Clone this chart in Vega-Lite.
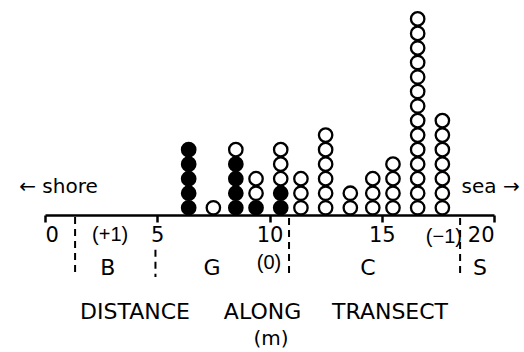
{
  "$schema": "https://vega.github.io/schema/vega-lite/v6.json",
  "width": 449,
  "height": 215,
  "autosize": "none",
  "padding": {"left": 45, "top": 0, "right": 30, "bottom": 137},
  "background": "white",
  "config": {"view": {"stroke": null}, "font": "DejaVu Sans"},
  "datasets": {
    "circles": [
      {"pos": 6.4, "k": 1, "filled": "yes"}, {"pos": 6.4, "k": 2, "filled": "yes"}, {"pos": 6.4, "k": 3, "filled": "yes"}, {"pos": 6.4, "k": 4, "filled": "yes"}, {"pos": 6.4, "k": 5, "filled": "yes"},
      {"pos": 7.5, "k": 1, "filled": "no"},
      {"pos": 8.5, "k": 1, "filled": "yes"}, {"pos": 8.5, "k": 2, "filled": "yes"}, {"pos": 8.5, "k": 3, "filled": "yes"}, {"pos": 8.5, "k": 4, "filled": "yes"}, {"pos": 8.5, "k": 5, "filled": "no"},
      {"pos": 9.4, "k": 1, "filled": "yes"}, {"pos": 9.4, "k": 2, "filled": "no"}, {"pos": 9.4, "k": 3, "filled": "no"},
      {"pos": 10.5, "k": 1, "filled": "yes"}, {"pos": 10.5, "k": 2, "filled": "yes"}, {"pos": 10.5, "k": 3, "filled": "no"}, {"pos": 10.5, "k": 4, "filled": "no"}, {"pos": 10.5, "k": 5, "filled": "no"},
      {"pos": 11.4, "k": 1, "filled": "no"}, {"pos": 11.4, "k": 2, "filled": "no"}, {"pos": 11.4, "k": 3, "filled": "no"},
      {"pos": 12.5, "k": 1, "filled": "no"}, {"pos": 12.5, "k": 2, "filled": "no"}, {"pos": 12.5, "k": 3, "filled": "no"}, {"pos": 12.5, "k": 4, "filled": "no"}, {"pos": 12.5, "k": 5, "filled": "no"}, {"pos": 12.5, "k": 6, "filled": "no"},
      {"pos": 13.6, "k": 1, "filled": "no"}, {"pos": 13.6, "k": 2, "filled": "no"},
      {"pos": 14.6, "k": 1, "filled": "no"}, {"pos": 14.6, "k": 2, "filled": "no"}, {"pos": 14.6, "k": 3, "filled": "no"},
      {"pos": 15.5, "k": 1, "filled": "no"}, {"pos": 15.5, "k": 2, "filled": "no"}, {"pos": 15.5, "k": 3, "filled": "no"}, {"pos": 15.5, "k": 4, "filled": "no"},
      {"pos": 16.6, "k": 1, "filled": "no"}, {"pos": 16.6, "k": 2, "filled": "no"}, {"pos": 16.6, "k": 3, "filled": "no"}, {"pos": 16.6, "k": 4, "filled": "no"}, {"pos": 16.6, "k": 5, "filled": "no"}, {"pos": 16.6, "k": 6, "filled": "no"}, {"pos": 16.6, "k": 7, "filled": "no"}, {"pos": 16.6, "k": 8, "filled": "no"}, {"pos": 16.6, "k": 9, "filled": "no"}, {"pos": 16.6, "k": 10, "filled": "no"}, {"pos": 16.6, "k": 11, "filled": "no"}, {"pos": 16.6, "k": 12, "filled": "no"}, {"pos": 16.6, "k": 13, "filled": "no"}, {"pos": 16.6, "k": 14, "filled": "no"},
      {"pos": 17.7, "k": 1, "filled": "no"}, {"pos": 17.7, "k": 2, "filled": "no"}, {"pos": 17.7, "k": 3, "filled": "no"}, {"pos": 17.7, "k": 4, "filled": "no"}, {"pos": 17.7, "k": 5, "filled": "no"}, {"pos": 17.7, "k": 6, "filled": "no"}, {"pos": 17.7, "k": 7, "filled": "no"}
    ],
    "zones": [
      {"pos": 1.34, "top": 0.36, "bottom": -3.77},
      {"pos": 4.92, "top": -1.9, "bottom": -3.77},
      {"pos": 10.87, "top": 0.3, "bottom": -3.84},
      {"pos": 18.49, "top": 0.3, "bottom": -3.84}
    ],
    "bigLabels": [
      {"pos": 0.6, "y": 2.43, "label": "← shore"},
      {"pos": 19.85, "y": 2.43, "label": "sea →"}
    ],
    "zoneLetters": [
      {"pos": 2.8, "y": -3.15, "label": "B"},
      {"pos": 7.44, "y": -3.15, "label": "G"},
      {"pos": 14.39, "y": -3.15, "label": "C"},
      {"pos": 19.38, "y": -3.15, "label": "S"}
    ],
    "levels": [
      {"pos": 2.9, "y": -0.88, "label": "(+1)"},
      {"pos": 9.98, "y": -2.8, "label": "(0)"},
      {"pos": 17.77, "y": -1.0, "label": "(−1)"}
    ],
    "title": [
      {"pos": 4.01, "y": -6.21, "label": "DISTANCE"},
      {"pos": 9.69, "y": -6.21, "label": "ALONG"},
      {"pos": 15.37, "y": -6.21, "label": "TRANSECT"}
    ],
    "unit": [
      {"pos": 10.07, "y": -8.03, "label": "(m)"}
    ]
  },
  "layer": [
    {
      "data": {"name": "circles"},
      "mark": {"type": "point", "shape": "circle", "filled": true, "size": 180, "stroke": "black", "strokeWidth": 2.3, "opacity": 1},
      "encoding": {
        "x": {"field": "pos", "type": "quantitative", "scale": {"domain": [0, 20], "nice": false},
          "axis": {"values": [0, 5, 10, 15, 20], "grid": false, "domainColor": "black", "domainWidth": 2.5, "tickColor": "black", "tickWidth": 2.5, "tickSize": 7,
            "labelFontSize": 21, "labelColor": "black", "labelPadding": 2, "labelFont": "DejaVu Sans", "title": null}},
        "y": {"field": "k", "type": "quantitative", "scale": {"domain": [0.5, 15.3], "nice": false, "zero": false}, "axis": null},
        "fill": {"field": "filled", "type": "nominal", "scale": {"domain": ["yes", "no"], "range": ["black", "white"]}, "legend": null}
      }
    },
    {
      "data": {"name": "zones"},
      "mark": {"type": "rule", "color": "black", "strokeWidth": 2, "strokeDash": [7, 5]},
      "encoding": {
        "x": {"field": "pos", "type": "quantitative"},
        "y": {"field": "top", "type": "quantitative"},
        "y2": {"field": "bottom"}
      }
    },
    {
      "data": {"name": "bigLabels"},
      "mark": {"type": "text", "fontSize": 20, "baseline": "middle", "align": "center", "color": "black", "font": "DejaVu Sans"},
      "encoding": {
        "x": {"field": "pos", "type": "quantitative"},
        "y": {"field": "y", "type": "quantitative"},
        "text": {"field": "label"}
      }
    },
    {
      "data": {"name": "zoneLetters"},
      "mark": {"type": "text", "fontSize": 22, "baseline": "middle", "align": "center", "color": "black", "font": "DejaVu Sans"},
      "encoding": {
        "x": {"field": "pos", "type": "quantitative"},
        "y": {"field": "y", "type": "quantitative"},
        "text": {"field": "label"}
      }
    },
    {
      "data": {"name": "levels"},
      "mark": {"type": "text", "fontSize": 20, "baseline": "middle", "align": "center", "color": "black", "font": "Liberation Sans"},
      "encoding": {
        "x": {"field": "pos", "type": "quantitative"},
        "y": {"field": "y", "type": "quantitative"},
        "text": {"field": "label"}
      }
    },
    {
      "data": {"name": "title"},
      "mark": {"type": "text", "fontSize": 22, "baseline": "middle", "align": "center", "color": "black", "font": "DejaVu Sans"},
      "encoding": {
        "x": {"field": "pos", "type": "quantitative"},
        "y": {"field": "y", "type": "quantitative"},
        "text": {"field": "label"}
      }
    },
    {
      "data": {"name": "unit"},
      "mark": {"type": "text", "fontSize": 20, "baseline": "middle", "align": "center", "color": "black", "font": "DejaVu Sans"},
      "encoding": {
        "x": {"field": "pos", "type": "quantitative"},
        "y": {"field": "y", "type": "quantitative"},
        "text": {"field": "label"}
      }
    }
  ]
}
